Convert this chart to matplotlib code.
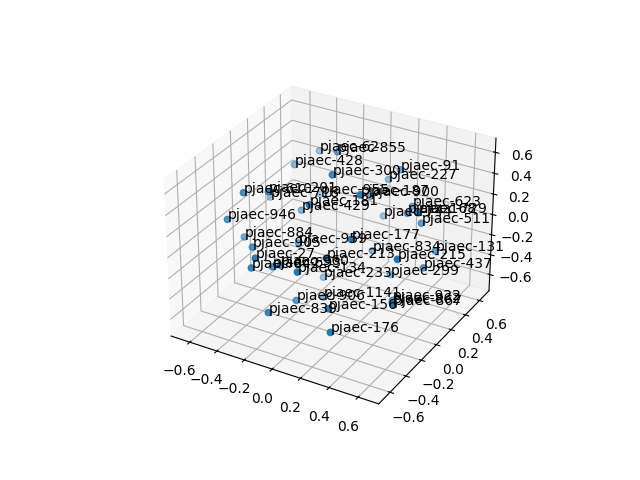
import matplotlib
matplotlib.use('Agg')
import matplotlib.pyplot as plt

ids = [62,855,428,300,91,227,610,201,718,955,187,900,181,429,946,884,905,27,842,693,960,959,177,213,134,233,906,1141,156,839,176,922,862,867,834,215,131,437,299,623,744,168,729,511]
xs = [-.303,-.084,-.363,.041,.266,.146,-.413,-.257,-.497,-.279,.273,.146,.024,-.253,-.480,-.468,-.305,-.176,-.230,-.169,-.082,-.168,.294,.193,.087,-.079,-.041,.004,.280,-.064,.326,.471,.519,.632,.196,.585,.623,.586,.332,.388,.152,.416,.623,.506]
ys = [.353,.200,.145,-.079,.377,.445,-.373,-.336,.069,.323,-.145,.211,-.324,.042,-.457,-.291,-.455,-.626,-.589,-.446,-.494,-.139,-.289,-.413,-.576,.015,-.381,-.128,-.540,-.669,-.596,-.085,-.176,-.375,.153,-.244,.181,.098,.144,.314,.374,.196,-.060,.212]
zs = [.485,.644,.457,.646,.491,.311,.500,.542,.142,.090,.588,.297,.518,.124,.278,.003,.081,.145,.005,-.060,.026,-.040,.276,.145,.085,-.450,-.379,-.512,-.208,-.296,-.374,-.379,-.314,-.143,-.172,.174,-.024,-.145,-.346,.225,.003,.246,.498,.175]
labels = [f"pjaec-{i}" for i in ids]
x_limits = (-.74, .74)
y_limits = (-.74, .74)
z_limits = (-.765, .735)

fig = plt.figure()
ax = fig.add_subplot(projection='3d')
ax.scatter(xs, ys, zs)
for x, y, z, t in zip(xs, ys, zs, labels):
    ax.text(x, y, z, t)
ax.set_xlim(*x_limits)
ax.set_ylim(*y_limits)
ax.set_zlim(*z_limits)
fig.savefig('out.png', dpi=100)
